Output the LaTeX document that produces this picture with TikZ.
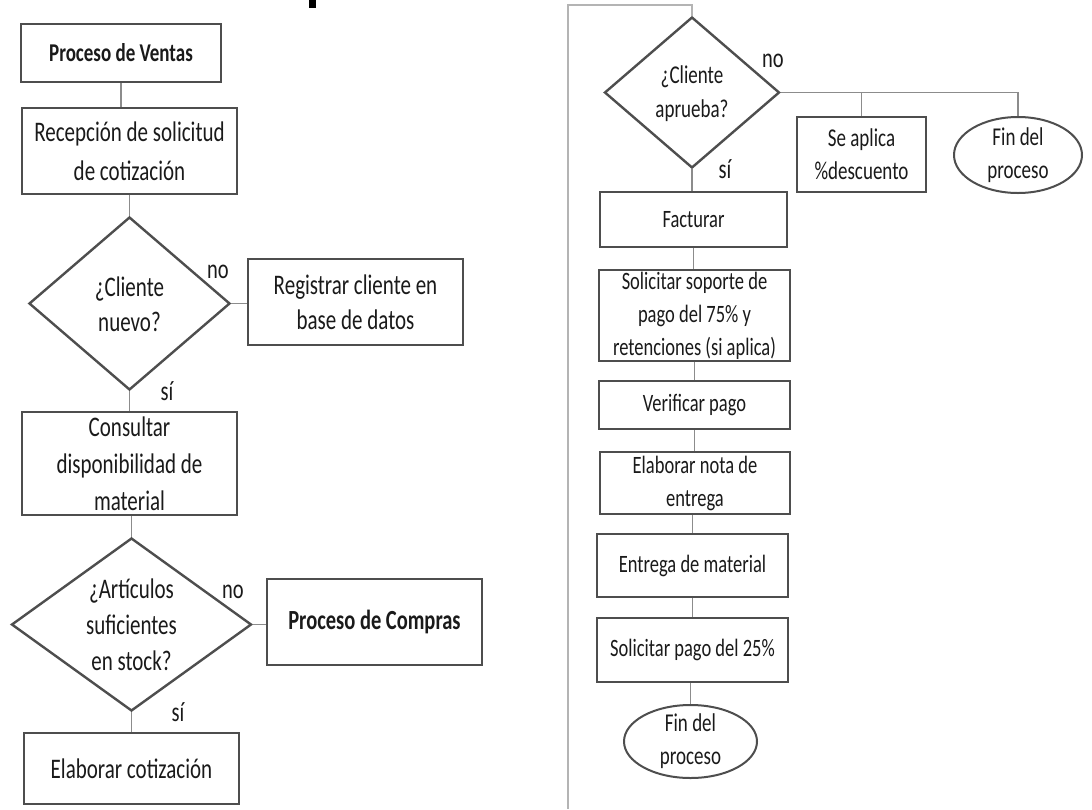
\documentclass[tikz,border=0pt]{standalone}
\usepackage{graphicx}
\usepackage{fontspec}
\setmainfont{Carlito}
\usetikzlibrary{shapes.geometric}
\definecolor{boxline}{HTML}{4E4E4E}
\definecolor{conline}{HTML}{8C8C8C}
\definecolor{frameline}{HTML}{B4B4B4}
\definecolor{txt}{HTML}{1A1A1A}
\newcommand{\vs}[1]{\scalebox{1}[1.35]{#1}}
\tikzset{
  lbox/.style={draw=boxline, line width=2.4pt, rectangle, inner sep=0pt, align=center,
    text=txt, font=\fontsize{21}{37}\selectfont},
  rbox/.style={draw=boxline, line width=2.4pt, rectangle, inner sep=0pt, align=center,
    text=txt, font=\fontsize{18.5}{33}\selectfont},
  dshape/.style={draw=boxline, line width=2.4pt, diamond, inner sep=0pt},
  eshape/.style={draw=boxline, line width=2pt, ellipse, inner sep=0pt},
  ltxt/.style={align=center, inner sep=0pt, text=txt, font=\fontsize{21}{36}\selectfont},
  rtxt/.style={align=center, inner sep=0pt, text=txt, font=\fontsize{18.5}{33}\selectfont},
  lab/.style={inner sep=0pt, text=txt, font=\fontsize{20.5}{24}\selectfont},
  con/.style={draw=conline, line width=1.4pt},
  frame/.style={draw=frameline, line width=1.5pt}
}
\begin{document}
\begin{tikzpicture}[x=1pt,y=-1pt]
\useasboundingbox[fill=white] (0,0) rectangle (1092,809);
% clipped fragment at the top
\fill[black] (309,0) rectangle (316,8);
% ---------------- left column ----------------
\node[lbox, minimum width=200, minimum height=58] (pv) at (121,53) {\fontsize{19}{30}\selectfont\vs{\textbf{Proceso de Ventas}}};
\node[lbox, minimum width=215, minimum height=86, font=\fontsize{21}{39}\selectfont] (rec) at (129.5,151) {\vs{Recepción de solicitud}\\\vs{de cotización}};
\node[dshape, minimum width=201, minimum height=173] (d1) at (129.5,303.5) {};
\node[ltxt, font=\fontsize{21}{35}\selectfont] (d1t) at (129.5,304) {\vs{¿Cliente}\\\vs{nuevo?}};
\node[lbox, minimum width=215, minimum height=86, font=\fontsize{21}{35}\selectfont] (reg) at (355.5,302) {\vs{Registrar cliente en}\\\vs{base de datos}};
\node[lbox, minimum width=215, minimum height=103] (cons) at (129.5,463.5) {\vs{Consultar}\\\vs{disponibilidad de}\\\vs{material}};
\node[dshape, minimum width=240, minimum height=173] (d2) at (131.5,624.5) {};
\node[ltxt] (d2t) at (131.5,625) {\vs{¿Artículos}\\\vs{suficientes}\\\vs{en stock?}};
\node[lbox, minimum width=215, minimum height=86] (pc) at (374.5,622) {\fontsize{20.5}{30}\selectfont\vs{\textbf{Proceso de Compras}}};
\node[lbox, minimum width=215, minimum height=71] (ela) at (131.5,768.5) {\vs{Elaborar cotización}};
\node[lab] (no1) at (218,272) {\vs{no}};
\node[lab] (si1) at (167,391) {\vs{sí}};
\node[lab] (no2) at (233,592) {\vs{no}};
\node[lab] (si2) at (178,712) {\vs{sí}};
\draw[con] (pv.south) -- (pv.south |- rec.north);
\draw[con] (d1.north |- rec.south) -- (d1.north);
\draw[con] (d1.east) -- (d1.east -| reg.west);
\draw[con] (d1.south) -- (d1.south |- cons.north);
\draw[con] (d2.north |- cons.south) -- (d2.north);
\draw[con] (d2.east) -- (d2.east -| pc.west);
\draw[con] (d2.south) -- (d2.south |- ela.north);
% ---------------- right column ----------------
\coordinate (ft) at (692,5);
\coordinate (fl) at (568,5);
\coordinate (fb) at (568,809);
\node[dshape, minimum width=175, minimum height=151] (d3) at (692,92.5) {};
\node[rtxt, font=\fontsize{19}{34}\selectfont] (d3t) at (692,94) {\vs{¿Cliente}\\\vs{aprueba?}};
\draw[frame] (d3.north) -- (ft) -- (fl) -- (fb);
\node[rbox, minimum width=129, minimum height=75, font=\fontsize{19}{33}\selectfont] (desc) at (861.5,154.5) {\vs{Se aplica}\\\vs{\%descuento}};
\node[eshape, minimum width=128, minimum height=76] (fin1) at (1018,155) {};
\node[rtxt, font=\fontsize{19}{33}\selectfont] (fin1t) at (1018,155) {\vs{Fin del}\\\vs{proceso}};
\node[lab] (no3) at (773,61) {\vs{no}};
\node[lab] (si3) at (725,169) {\vs{sí}};
\node[rbox, minimum width=187, minimum height=55] (fac) at (693.5,219.5) {\vs{Facturar}};
\node[rbox, minimum width=191, minimum height=91] (sol) at (694.5,315.5) {\vs{Solicitar soporte de}\\\vs{pago del 75\% y}\\\vs{retenciones (si aplica)}};
\node[rbox, minimum width=191, minimum height=48] (ver) at (694.5,405) {\vs{Verificar pago}};
\node[rbox, minimum width=190, minimum height=62] (nota) at (695,483) {\vs{Elaborar nota de}\\\vs{entrega}};
\node[rbox, minimum width=191, minimum height=63] (ent) at (692.5,565.5) {\vs{Entrega de material}};
\node[rbox, minimum width=191, minimum height=64] (spg) at (692.5,650) {\vs{Solicitar pago del 25\%}};
\node[eshape, minimum width=133, minimum height=73] (fin2) at (690.5,741.5) {};
\node[rtxt, font=\fontsize{19}{33}\selectfont] (fin2t) at (690.5,741.5) {\vs{Fin del}\\\vs{proceso}};
\draw[con] (d3.east) -- (d3.east -| fin1.north) -- (fin1.north);
\draw[con] (desc.north |- d3.east) -- (desc.north);
\draw[con] (d3.south) -- (d3.south |- fac.north);
\draw[con] (fac.south) -- (fac.south |- sol.north);
\draw[con] (sol.south) -- (sol.south |- ver.north);
\draw[con] (ver.south) -- (ver.south |- nota.north);
\draw[con] (ent.north |- nota.south) -- (ent.north);
\draw[con] (ent.south) -- (ent.south |- spg.north);
\draw[con] (fin2.north |- spg.south) -- (fin2.north);
\end{tikzpicture}
\end{document}
